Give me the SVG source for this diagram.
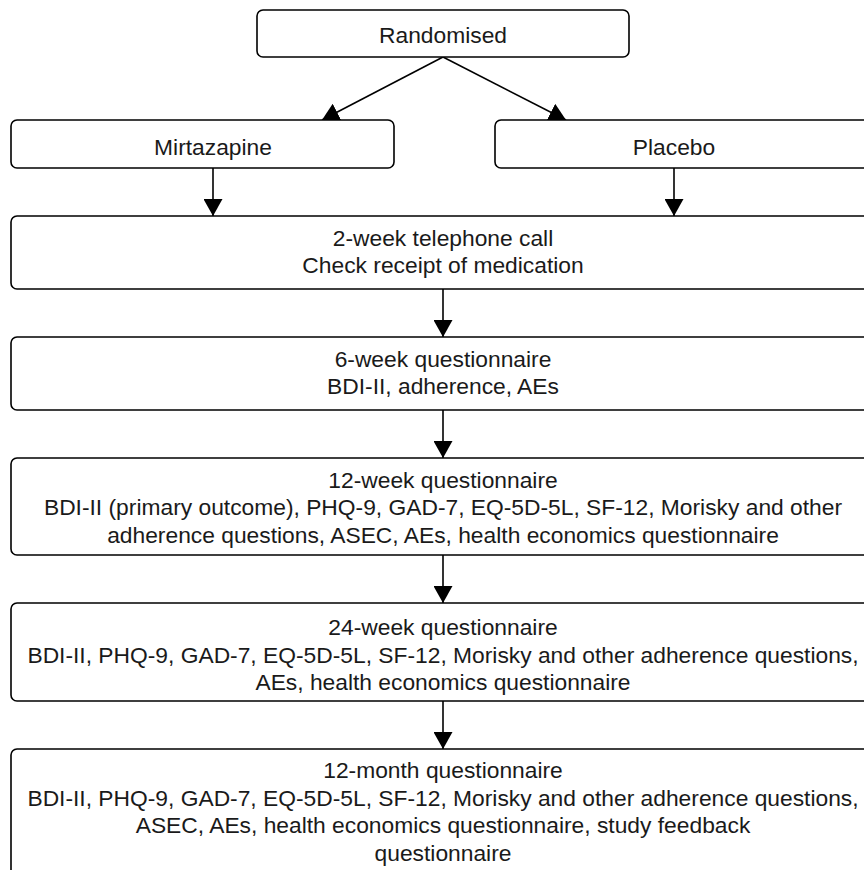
<svg xmlns="http://www.w3.org/2000/svg" width="864" height="870" viewBox="0 0 864 870">
<style>
.box{fill:#fff;stroke:#000;stroke-width:1.6}
.t{font-family:"Liberation Sans",Arial,sans-serif;font-size:22.8px;fill:#1a1a1a;text-anchor:middle}
.c{stroke:#000;stroke-width:1.6;fill:none;marker-end:url(#ah)}
</style>
<defs>
<marker id="ah" viewBox="0 0 17 19" refX="17" refY="9.5" markerWidth="17" markerHeight="19" markerUnits="userSpaceOnUse" orient="auto">
<path d="M0,0 L17,9.5 L0,19 z" fill="#000"/>
</marker>
</defs>
<rect width="864" height="870" fill="#fff"/>
<g id="connectors">
<line class="c" x1="443" y1="57" x2="322" y2="120"/>
<line class="c" x1="443" y1="57" x2="566" y2="120"/>
<line class="c" x1="213" y1="168" x2="213" y2="216"/>
<line class="c" x1="674" y1="168" x2="674" y2="216"/>
<line class="c" x1="443" y1="289" x2="443" y2="337"/>
<line class="c" x1="443" y1="410" x2="443" y2="458"/>
<line class="c" x1="443" y1="555" x2="443" y2="603"/>
<line class="c" x1="443" y1="701" x2="443" y2="749"/>
</g>
<g id="randomised">
<rect class="box" x="257" y="10" width="372" height="47" rx="6"/>
<text class="t" x="443" y="43">Randomised</text>
</g>
<g id="mirtazapine">
<rect class="box" x="11" y="120" width="383" height="48" rx="6"/>
<text class="t" x="213" y="155">Mirtazapine</text>
</g>
<g id="placebo">
<rect class="box" x="495" y="120" width="385" height="48" rx="6"/>
<text class="t" x="674" y="155">Placebo</text>
</g>
<g id="week2">
<rect class="box" x="11" y="216" width="865" height="73" rx="6"/>
<text class="t" x="443" y="245.5">2-week telephone call</text>
<text class="t" x="443" y="273">Check receipt of medication</text>
</g>
<g id="week6">
<rect class="box" x="11" y="337" width="865" height="73" rx="6"/>
<text class="t" x="443" y="366.5">6-week questionnaire</text>
<text class="t" x="443" y="394">BDI-II, adherence, AEs</text>
</g>
<g id="week12">
<rect class="box" x="11" y="458" width="865" height="97" rx="6"/>
<text class="t" x="443" y="487.5">12-week questionnaire</text>
<text class="t" x="443" y="515">BDI-II (primary outcome), PHQ-9, GAD-7, EQ-5D-5L, SF-12, Morisky and other</text>
<text class="t" x="443" y="542.5">adherence questions, ASEC, AEs, health economics questionnaire</text>
</g>
<g id="week24">
<rect class="box" x="11" y="603" width="865" height="98" rx="6"/>
<text class="t" x="443" y="635">24-week questionnaire</text>
<text class="t" x="443" y="662.5">BDI-II, PHQ-9, GAD-7, EQ-5D-5L, SF-12, Morisky and other adherence questions,</text>
<text class="t" x="443" y="690">AEs, health economics questionnaire</text>
</g>
<g id="month12">
<rect class="box" x="11" y="749" width="865" height="140" rx="6"/>
<text class="t" x="443" y="778">12-month questionnaire</text>
<text class="t" x="443" y="805.5">BDI-II, PHQ-9, GAD-7, EQ-5D-5L, SF-12, Morisky and other adherence questions,</text>
<text class="t" x="443" y="833">ASEC, AEs, health economics questionnaire, study feedback</text>
<text class="t" x="443" y="860.5">questionnaire</text>
</g>
</svg>
